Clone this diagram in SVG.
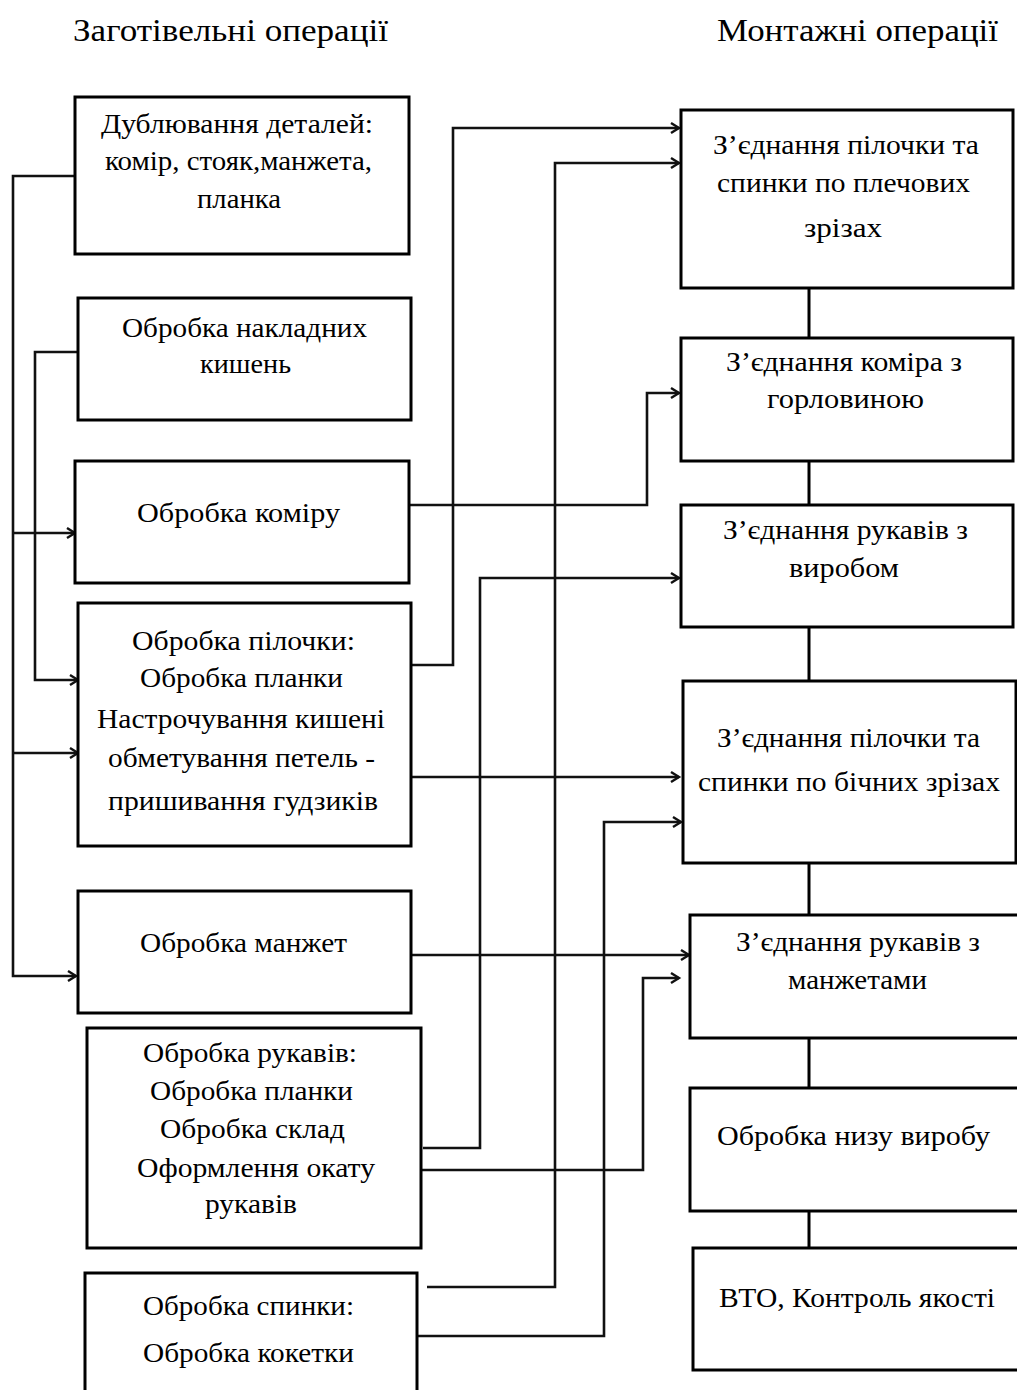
<svg xmlns="http://www.w3.org/2000/svg" width="1017" height="1390" viewBox="0 0 1017 1390">
<style>
.bg{fill:#fff}
.box{fill:#fff;stroke:#000;stroke-width:3}
.t{font-family:"Liberation Serif","Times New Roman",serif;font-size:27px;fill:#000}
.h{font-family:"Liberation Serif","Times New Roman",serif;font-size:31px;fill:#000}
.c{fill:none;stroke:#111;stroke-width:2.6}
.v{fill:none;stroke:#000;stroke-width:3}
</style>
<defs>
<marker id="ar" markerUnits="userSpaceOnUse" markerWidth="14" markerHeight="14" refX="10" refY="6" orient="auto">
<path d="M2,1 L10,6 L2,11" fill="none" stroke="#111" stroke-width="2.4"/>
</marker>
</defs>
<rect class="bg" x="0" y="0" width="1017" height="1390"/>

<text class="h" x="73" y="41" textLength="315" lengthAdjust="spacingAndGlyphs">Заготівельні операції</text>
<text class="h" x="717" y="41" textLength="281" lengthAdjust="spacingAndGlyphs">Монтажні операції</text>

<g id="connectors">
<path class="c" d="M75,176 H13 V976 H76" marker-end="url(#ar)"/>
<path class="c" d="M13,533 H75" marker-end="url(#ar)"/>
<path class="c" d="M13,753 H78" marker-end="url(#ar)"/>
<path class="c" d="M78,352 H35 V680 H78" marker-end="url(#ar)"/>
<path class="c" d="M411,665 H453 V128 H679" marker-end="url(#ar)"/>
<path class="c" d="M409,505 H647 V393 H679" marker-end="url(#ar)"/>
<path class="c" d="M427,1287 H555 V163 H679" marker-end="url(#ar)"/>
<path class="c" d="M423,1148 H480 V578 H679" marker-end="url(#ar)"/>
<path class="c" d="M411,777 H679" marker-end="url(#ar)"/>
<path class="c" d="M417,1336 H604 V822 H681" marker-end="url(#ar)"/>
<path class="c" d="M411,955 H689" marker-end="url(#ar)"/>
<path class="c" d="M421,1170 H643 V978 H679" marker-end="url(#ar)"/>
<path class="v" d="M809,288 V338 M809,461 V505 M809,627 V681 M809,863 V915 M809,1038 V1088 M809,1211 V1248"/>
</g>

<g id="n1"><rect class="box" x="75" y="97" width="334" height="157"/>
<text class="t" x="101" y="133" textLength="272" lengthAdjust="spacingAndGlyphs">Дублювання деталей:</text>
<text class="t" x="105" y="170" textLength="267" lengthAdjust="spacingAndGlyphs">комір, стояк,манжета,</text>
<text class="t" x="197" y="208" textLength="84" lengthAdjust="spacingAndGlyphs">планка</text></g>

<g id="n2"><rect class="box" x="78" y="298" width="333" height="122"/>
<text class="t" x="122" y="337" textLength="245" lengthAdjust="spacingAndGlyphs">Обробка накладних</text>
<text class="t" x="200" y="373" textLength="91" lengthAdjust="spacingAndGlyphs">кишень</text></g>

<g id="n3"><rect class="box" x="75" y="461" width="334" height="122"/>
<text class="t" x="137" y="522" textLength="203" lengthAdjust="spacingAndGlyphs">Обробка коміру</text></g>

<g id="n4"><rect class="box" x="78" y="603" width="333" height="243"/>
<text class="t" x="132" y="650" textLength="223" lengthAdjust="spacingAndGlyphs">Обробка пілочки:</text>
<text class="t" x="140" y="687" textLength="203" lengthAdjust="spacingAndGlyphs">Обробка планки</text>
<text class="t" x="97" y="728" textLength="288" lengthAdjust="spacingAndGlyphs">Настрочування кишені</text>
<text class="t" x="108" y="767" textLength="267" lengthAdjust="spacingAndGlyphs">обметування петель -</text>
<text class="t" x="108" y="810" textLength="270" lengthAdjust="spacingAndGlyphs">пришивання  гудзиків</text></g>

<g id="n5"><rect class="box" x="78" y="891" width="333" height="122"/>
<text class="t" x="140" y="952" textLength="207" lengthAdjust="spacingAndGlyphs">Обробка манжет</text></g>

<g id="n6"><rect class="box" x="87" y="1028" width="334" height="220"/>
<text class="t" x="143" y="1062" textLength="214" lengthAdjust="spacingAndGlyphs">Обробка рукавів:</text>
<text class="t" x="150" y="1100" textLength="203" lengthAdjust="spacingAndGlyphs">Обробка планки</text>
<text class="t" x="160" y="1138" textLength="185" lengthAdjust="spacingAndGlyphs">Обробка склад</text>
<text class="t" x="137" y="1177" textLength="238" lengthAdjust="spacingAndGlyphs">Оформлення окату</text>
<text class="t" x="205" y="1213" textLength="92" lengthAdjust="spacingAndGlyphs">рукавів</text></g>

<g id="n7"><rect class="box" x="85" y="1273" width="332" height="140"/>
<text class="t" x="143" y="1315" textLength="211" lengthAdjust="spacingAndGlyphs">Обробка спинки:</text>
<text class="t" x="143" y="1362" textLength="211" lengthAdjust="spacingAndGlyphs">Обробка кокетки</text></g>

<g id="r1"><rect class="box" x="681" y="110" width="332" height="178"/>
<text class="t" x="713" y="154" textLength="266" lengthAdjust="spacingAndGlyphs">З’єднання пілочки та</text>
<text class="t" x="717" y="192" textLength="253" lengthAdjust="spacingAndGlyphs">спинки  по плечових</text>
<text class="t" x="804" y="237" textLength="78" lengthAdjust="spacingAndGlyphs">зрізах</text></g>

<g id="r2"><rect class="box" x="681" y="338" width="332" height="123"/>
<text class="t" x="726" y="371" textLength="236" lengthAdjust="spacingAndGlyphs">З’єднання коміра з</text>
<text class="t" x="767" y="408" textLength="157" lengthAdjust="spacingAndGlyphs">горловиною</text></g>

<g id="r3"><rect class="box" x="681" y="505" width="332" height="122"/>
<text class="t" x="723" y="539" textLength="245" lengthAdjust="spacingAndGlyphs">З’єднання рукавів  з</text>
<text class="t" x="789" y="577" textLength="110" lengthAdjust="spacingAndGlyphs">виробом</text></g>

<g id="r4"><rect class="box" x="683" y="681" width="333" height="182"/>
<text class="t" x="717" y="747" textLength="263" lengthAdjust="spacingAndGlyphs">З’єднання пілочки та</text>
<text class="t" x="698" y="791" textLength="302" lengthAdjust="spacingAndGlyphs">спинки  по бічних  зрізах</text></g>

<g id="r5"><rect class="box" x="690" y="915" width="340" height="123"/>
<text class="t" x="736" y="951" textLength="244" lengthAdjust="spacingAndGlyphs">З’єднання рукавів  з</text>
<text class="t" x="788" y="989" textLength="139" lengthAdjust="spacingAndGlyphs">манжетами</text></g>

<g id="r6"><rect class="box" x="690" y="1088" width="340" height="123"/>
<text class="t" x="717" y="1145" textLength="273" lengthAdjust="spacingAndGlyphs">Обробка низу виробу</text></g>

<g id="r7"><rect class="box" x="693" y="1248" width="340" height="122"/>
<text class="t" x="719" y="1307" textLength="276" lengthAdjust="spacingAndGlyphs">ВТО, Контроль якості</text></g>
</svg>
